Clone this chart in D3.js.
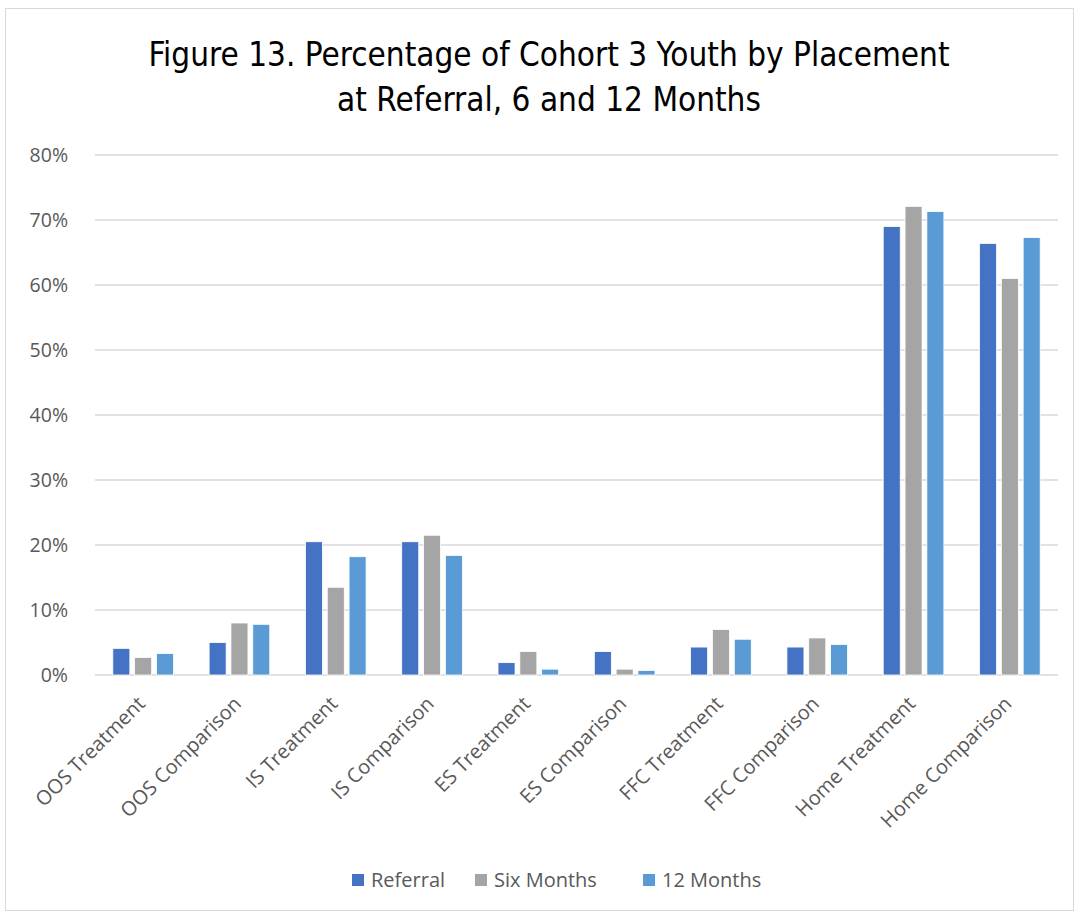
<!DOCTYPE html>
<html>
<head>
    <meta charset="UTF-8">
    <title>Figure 13</title>
    <style type="text/css">
        body { margin: 0; background: #fff; }
        .axis text { font-family: "Open Sans", sans-serif; fill: #595959; }
        .title { font-family: "Liberation Sans Narrow", "DejaVu Sans Condensed", sans-serif; font-size: 33px; fill: #000; text-anchor: middle; }
        .legend text { font-family: "Open Sans", sans-serif; font-size: 20px; fill: #595959; }
    </style>
    <script src="https://d3js.org/d3.v7.min.js"></script>
</head>
<body>
<script type="text/javascript">
    // Data
    const categories = ["OOS Treatment", "OOS Comparison", "IS Treatment", "IS Comparison",
        "ES Treatment", "ES Comparison", "FFC Treatment", "FFC Comparison",
        "Home Treatment", "Home Comparison"];
    const seriesNames = ["Referral", "Six Months", "12 Months"];
    const referral = [4.1, 5.0, 20.5, 20.5, 1.9, 3.6, 4.3, 4.3, 69.0, 66.4];
    const sixMonths = [2.7, 8.0, 13.5, 21.5, 3.6, 0.9, 7.0, 5.7, 72.1, 61.0];
    const twelveMonths = [3.3, 7.8, 18.2, 18.4, 0.9, 0.7, 5.5, 4.7, 71.3, 67.3];
    const yTicks = [0, 10, 20, 30, 40, 50, 60, 70, 80];
    const colors = ["#4472c4", "#a5a5a5", "#5b9bd5"];

    const W = 1076, H = 912;
    const margin = { top: 155, right: 18, bottom: 237, left: 95 };
    const width = W - margin.left - margin.right;
    const height = H - margin.top - margin.bottom;

    const svg = d3.select("body").append("svg")
        .attr("width", W)
        .attr("height", H);

    // chart border
    svg.append("rect")
        .attr("x", 5.5).attr("y", 8.5)
        .attr("width", W - 8).attr("height", H - 10)
        .attr("fill", "#fff")
        .attr("stroke", "#d9d9d9");

    // title
    svg.append("text").attr("class", "title")
        .attr("x", 549).attr("y", 66)
        .text("Figure 13. Percentage of Cohort 3 Youth by Placement");
    svg.append("text").attr("class", "title")
        .attr("x", 549).attr("y", 111)
        .text("at Referral, 6 and 12 Months");

    const g = svg.append("g")
        .attr("transform", `translate(${margin.left},${margin.top})`);

    const x0 = d3.scaleBand().domain(categories).range([0, width]).paddingInner(0.37).paddingOuter(0.185);
    const x1 = d3.scaleBand().domain(seriesNames).range([0, x0.bandwidth()]).paddingInner(0.22);
    const y = d3.scaleLinear().domain([0, 80]).range([height, 0]);

    // gridlines
    g.append("g")
        .selectAll("line")
        .data(yTicks)
        .join("line")
        .attr("x1", 0).attr("x2", width)
        .attr("y1", d => y(d)).attr("y2", d => y(d))
        .attr("stroke", "#d9d9d9")
        .attr("stroke-width", 1.5);

    // y axis
    const yAxis = g.append("g").attr("class", "axis")
        .attr("transform", "translate(-24,0)")
        .call(d3.axisLeft(y).tickValues(yTicks).tickFormat(d => d + "%").tickSize(0));
    yAxis.select(".domain").remove();
    yAxis.selectAll("text").attr("font-size", 19.5).attr("dy", "0.35em");

    // bars
    const values = [referral, sixMonths, twelveMonths];
    const rows = categories.map((c, i) => ({
        cat: c,
        vals: seriesNames.map((s, j) => ({ s: s, v: values[j][i], c: colors[j] }))
    }));

    g.append("g")
        .selectAll("g")
        .data(rows)
        .join("g")
        .attr("transform", d => `translate(${x0(d.cat)},0)`)
        .selectAll("rect")
        .data(d => d.vals)
        .join("rect")
        .attr("x", d => x1(d.s))
        .attr("y", d => y(d.v))
        .attr("width", x1.bandwidth())
        .attr("height", d => y(0) - y(d.v))
        .attr("fill", d => d.c)
        .attr("stroke", "#fff")
        .attr("stroke-width", 0.8);

    // x axis
    const xAxis = g.append("g").attr("class", "axis")
        .attr("transform", `translate(0,${height})`)
        .call(d3.axisBottom(x0).tickSize(0));
    xAxis.select(".domain").remove();
    xAxis.selectAll("text")
        .attr("font-size", 20)
        .attr("text-anchor", "end")
        .attr("dy", "0.35em")
        .attr("transform", "translate(-4,23) rotate(-45)");

    // legend
    const legendX = [352, 475, 643];
    const legend = svg.append("g").attr("class", "legend")
        .selectAll("g")
        .data(seriesNames)
        .join("g")
        .attr("transform", (d, i) => `translate(${legendX[i]},880)`);
    legend.append("rect")
        .attr("x", 0).attr("y", -6)
        .attr("width", 12).attr("height", 12)
        .attr("fill", (d, i) => colors[i]);
    legend.append("text")
        .attr("x", 19).attr("y", 0)
        .attr("dy", "0.35em")
        .text(d => d);
</script>
</body>
</html>
